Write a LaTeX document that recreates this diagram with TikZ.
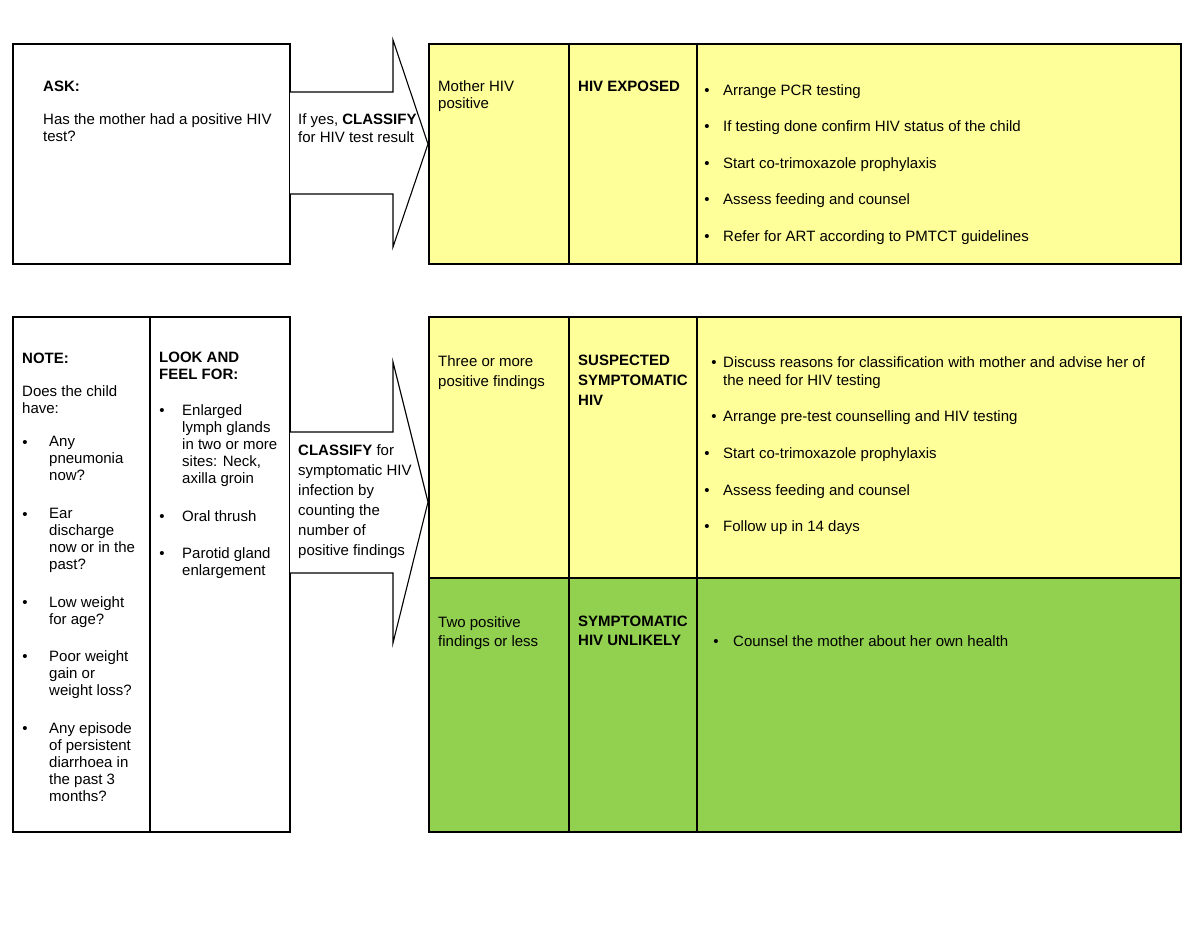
\documentclass[tikz,border=0pt]{standalone}
\usepackage{fontspec}
\setmainfont{Liberation Sans}
\definecolor{lyellow}{RGB}{255,255,153}
\definecolor{lgreen}{RGB}{146,208,80}
\tikzset{
  box/.style={draw=black,line width=1.3pt},
  txt/.style={anchor=base west,inner sep=0pt,align=left,font=\fontsize{15}{17}\selectfont},
  mtxt/.style={anchor=north west,inner sep=0pt,align=left,font=\fontsize{15}{17}\selectfont},
  bul/.style={anchor=base,inner sep=0pt,font=\fontsize{15}{17}\selectfont},
  arrowshape/.style={draw=black,fill=white,line width=1.1pt,line join=miter}
}
\begin{document}
\begin{tikzpicture}[x=1pt,y=-1pt]
\useasboundingbox (0,0) rectangle (1200,927);
% ---------- top row ----------
\draw[box,fill=white] (13,44) rectangle (290,264);
\node[txt] (ask) at (43,91) {\textbf{ASK:}};
\node[mtxt] (askq) at (43,113) {Has the mother had a positive HIV\\test?};
\draw[arrowshape] (290,92) -- (393,92) -- (393,40) -- (428,144) -- (393,247) -- (393,194) -- (290,194);
\node[mtxt,font=\fontsize{15}{18}\selectfont] (arr1) at (298,113) {If yes, \textbf{CLASSIFY}\\for HIV test result};
\fill[lyellow] (429,44) rectangle (1181,264);
\draw[box] (429,44) rectangle (1181,264);
\draw[box] (569,44) -- (569,264);
\draw[box] (697,44) -- (697,264);
\node[mtxt] (mother) at (438,80) {Mother HIV\\positive};
\node[txt] (exposed) at (578,91) {\textbf{HIV EXPOSED}};
\foreach \y/\t [count=\i] in {95/Arrange PCR testing,131/If testing done confirm HIV status of the child,168/Start co-trimoxazole prophylaxis,204/Assess feeding and counsel,241/Refer for ART according to PMTCT guidelines}{
  \node[bul] (tb\i) at (707,\y) {\textbullet};
  \node[txt] (tt\i) at (723,\y) {\t};
}
% ---------- bottom row ----------
\draw[box,fill=white] (13,317) rectangle (290,832);
\draw[box] (150,317) -- (150,832);
\node[txt] (note) at (22,363) {\textbf{NOTE:}};
\node[mtxt] (does) at (22,385) {Does the child\\have:};
\node[bul] (nb1) at (25,447) {\textbullet};
\node[mtxt] (nt1) at (49,436) {Any\\pneumonia\\now?};
\node[bul] (nb2) at (25,519) {\textbullet};
\node[mtxt] (nt2) at (49,508) {Ear\\discharge\\now or in the\\past?};
\node[bul] (nb3) at (25,607) {\textbullet};
\node[mtxt] (nt3) at (49,596) {Low weight\\for age?};
\node[bul] (nb4) at (25,661) {\textbullet};
\node[mtxt] (nt4) at (49,650) {Poor weight\\gain or\\weight loss?};
\node[bul] (nb5) at (25,733) {\textbullet};
\node[mtxt] (nt5) at (49,722) {Any episode\\of persistent\\diarrhoea in\\the past 3\\months?};
\node[mtxt] (look) at (159,352) {\textbf{LOOK AND}\\\textbf{FEEL FOR:}};
\node[bul] (lb1) at (162,415) {\textbullet};
\node[mtxt] (lt1) at (182,404) {Enlarged\\lymph glands\\in two or more\\sites: Neck,\\axilla groin};
\node[bul] (lb2) at (162,521) {\textbullet};
\node[txt] (lt2) at (182,521) {Oral thrush};
\node[bul] (lb3) at (162,558) {\textbullet};
\node[mtxt] (lt3) at (182,547) {Parotid gland\\enlargement};
\draw[arrowshape] (290,432) -- (393,432) -- (393,362) -- (428,502) -- (393,643) -- (393,573) -- (290,573);
\node[mtxt,font=\fontsize{15}{20}\selectfont] (arr2) at (298,444) {\textbf{CLASSIFY} for\\symptomatic HIV\\infection by\\counting the\\number of\\positive findings};
\fill[lyellow] (429,317) rectangle (1181,578);
\fill[lgreen] (429,578) rectangle (1181,832);
\draw[box] (429,317) rectangle (1181,832);
\draw[box] (429,578) -- (1181,578);
\draw[box] (569,317) -- (569,832);
\draw[box] (697,317) -- (697,832);
\node[mtxt,font=\fontsize{15}{20}\selectfont] (three) at (438,355) {Three or more\\positive findings};
\node[mtxt,font=\fontsize{15}{20}\selectfont] (susp) at (578,355) {\textbf{SUSPECTED}\\\textbf{SYMPTOMATIC}\\\textbf{HIV}};
\node[bul] (sb1) at (714,367) {\textbullet};
\node[mtxt,font=\fontsize{15}{18}\selectfont] (st1) at (723,356) {Discuss reasons for classification with mother and advise her of\\the need for HIV testing};
\node[bul] (sb2) at (714,421) {\textbullet};
\node[txt] (st2) at (723,421) {Arrange pre-test counselling and HIV testing};
\foreach \y/\t [count=\i from 3] in {458/Start co-trimoxazole prophylaxis,495/Assess feeding and counsel,531/Follow up in 14 days}{
  \node[bul] (sb\i) at (707,\y) {\textbullet};
  \node[txt] (st\i) at (723,\y) {\t};
}
\node[mtxt,font=\fontsize{15}{19}\selectfont] (two) at (438,616) {Two positive\\findings or less};
\node[mtxt,font=\fontsize{15}{19}\selectfont] (unl) at (578,616) {\textbf{SYMPTOMATIC}\\\textbf{HIV UNLIKELY}};
\node[bul] (gb1) at (716,646) {\textbullet};
\node[txt] (gt1) at (733,646) {Counsel the mother about her own health};
\end{tikzpicture}
\end{document}
